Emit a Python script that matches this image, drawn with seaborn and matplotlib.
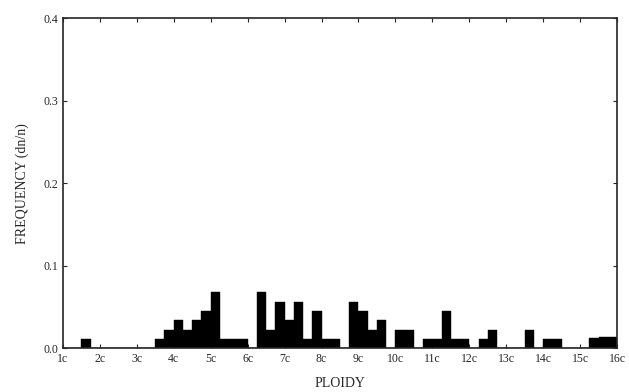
import seaborn as sns
import matplotlib.pyplot as plt
import numpy as np
import pandas as pd

# ploidy bins (left edge, in units of c) that have a bar, bin width 0.25c
bin_left = [1.5, 3.5, 3.75, 4.0, 4.25, 4.5, 4.75, 5.0, 5.25, 5.5, 5.75,
            6.25, 6.5, 6.75, 7.0, 7.25, 7.5, 7.75, 8.0, 8.25,
            8.75, 9.0, 9.25, 9.5, 10.0, 10.25, 10.75, 11.0, 11.25, 11.5, 11.75,
            12.25, 12.5, 13.5, 14.0, 14.25, 15.25, 15.5, 15.75]
freq = [0.011, 0.011, 0.0225, 0.034, 0.0225, 0.034, 0.045, 0.0675, 0.011, 0.011, 0.011,
        0.0675, 0.0225, 0.056, 0.034, 0.056, 0.011, 0.045, 0.011, 0.011,
        0.056, 0.045, 0.0225, 0.034, 0.0225, 0.0225, 0.011, 0.011, 0.045, 0.011, 0.011,
        0.011, 0.0225, 0.0225, 0.011, 0.011, 0.012, 0.013, 0.013]
tick_vals = list(range(1, 17))
tick_labels = [f'{i}c' for i in tick_vals]
bin_width = 0.25

sns.set_style('ticks')
plt.rcParams['font.family'] = ['Liberation Serif', 'DejaVu Serif']

fig = plt.figure(figsize=(6.29, 3.92), dpi=100)
ax = fig.add_axes([0.1, 0.112, 0.881, 0.842])

data = pd.DataFrame({
    'ploidy': np.array(bin_left) + bin_width / 2,
    'freq': freq
})
sns.histplot(data=data, x='ploidy', weights='freq', binwidth=bin_width, binrange=(1, 16),
             color='black', alpha=1, edgecolor='black', linewidth=0.3, ax=ax)

ax.set_xlim(1, 16)
ax.set_ylim(0, 0.4)
ax.set_xticks(tick_vals)
ax.set_xticklabels(tick_labels, fontsize=8.5)
ax.set_yticks([0, 0.1, 0.2, 0.3, 0.4])
ax.set_yticklabels(['0.0', '0.1', '0.2', '0.3', '0.4'], fontsize=8.5)
ax.tick_params(direction='in', top=True, right=True, length=3, width=0.8)
for s in ax.spines.values():
    s.set_linewidth(1.2)

ax.set_xlabel('PLOIDY', fontsize=10, labelpad=9)
ax.set_ylabel('FREQUENCY (dn/n)', fontsize=10, labelpad=10)

fig.savefig('out.png', dpi=100)
